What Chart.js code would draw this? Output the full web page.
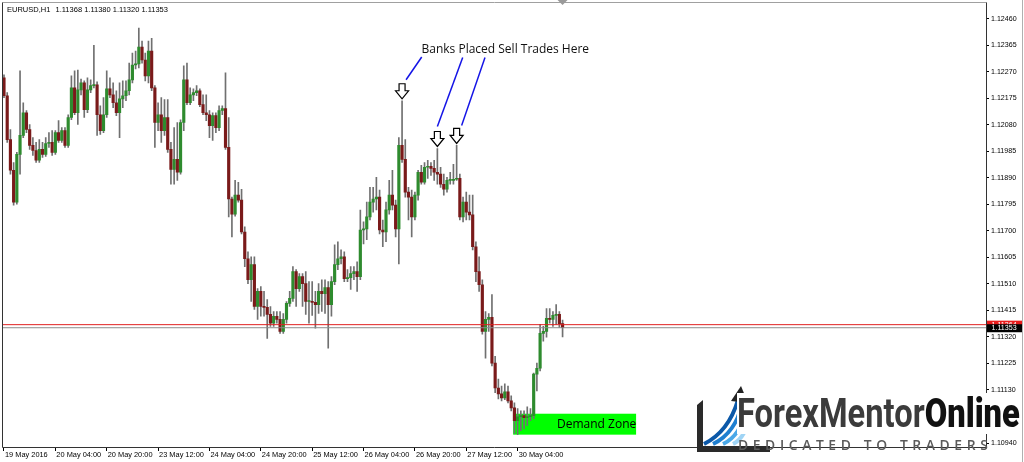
<!DOCTYPE html>
<html><head><meta charset="utf-8">
<script src="https://cdn.jsdelivr.net/npm/chart.js@4.4.0/dist/chart.umd.min.js"></script>
<style>
html,body{margin:0;padding:0;background:#fff;}
#wrap{position:relative;width:1024px;height:462px;overflow:hidden;background:#fff;}
#c{position:absolute;left:0;top:0;}
#brand{position:absolute;left:737px;top:393px;font-family:Roboto;font-size:41px;line-height:41px;font-weight:700;white-space:nowrap;transform-origin:0 0;background:#fff;}
#tag{position:absolute;left:738px;top:437px;font-family:'Open Sans';font-size:15px;line-height:15px;font-weight:600;letter-spacing:5px;color:#5a5a5a;white-space:nowrap;transform-origin:0 0;}
</style></head><body>
<div id="wrap">
<canvas id="c" width="1024" height="462"></canvas>
<svg width="1024" height="462" style="position:absolute;left:0;top:0;pointer-events:none">
 <path d="M697 405 L703 400 L703 446 L770 446 L770 452 L697 452 Z" fill="#2a2a2a"/>
 <path d="M704 444 C 720 436, 732 420, 738 400" stroke="#0b58a8" stroke-width="4" fill="none"/>
 <path d="M713 444 C 728 437, 738 422, 742 404" stroke="#1f7fd0" stroke-width="4" fill="none"/>
 <path d="M723 444 C 736 438, 743 425, 746 408" stroke="#4aa8e8" stroke-width="4" fill="none"/>
 <path d="M733 444 C 743 439, 748 428, 750 412" stroke="#9fd4f5" stroke-width="4" fill="none"/>
 <path d="M731 401 L741 386 L748 403 Z" fill="#222"/>
</svg>
<div id="brand"><span style="color:#3b3b3b">ForexMentor</span><span style="color:#111;font-weight:900">Online</span></div>
<div id="tag">DEDICATED TO TRADERS</div>
</div>
<script>
// ---- data (EURUSD H1) ----
const symbol = "EURUSD,H1";
const open = [1.12248,1.12184,1.12027,1.11917,1.11803,1.11974,1.12042,1.12123,1.12063,1.12006,
1.11988,1.11953,1.11992,1.11974,1.12013,1.12017,1.11981,1.12052,1.12024,1.12059,
1.12006,1.12106,1.12212,1.12123,1.12205,1.12230,1.12134,1.12205,1.12220,1.12223,
1.12116,1.12059,1.12116,1.12209,1.12187,1.12159,1.12123,1.12173,1.12184,1.12202,
1.12241,1.12294,1.12298,1.12358,1.12312,1.12255,1.12344,1.12212,1.12088,1.12116,
1.12059,1.12106,1.11992,1.11920,1.11956,1.11910,1.12088,1.12241,1.12159,1.12187,
1.12195,1.12202,1.12152,1.12123,1.12116,1.12077,1.12113,1.12070,1.12131,1.12138,
1.11999,1.11814,1.11760,1.11828,1.11810,1.11696,1.11600,1.11525,1.11579,1.11429,
1.11483,1.11429,1.11426,1.11401,1.11369,1.11394,1.11383,1.11340,1.11383,1.11440,
1.11458,1.11554,1.11493,1.11536,1.11511,1.11447,1.11447,1.11444,1.11436,1.11483,
1.11475,1.11497,1.11436,1.11518,1.11579,1.11600,1.11607,1.11529,1.11532,1.11547,
1.11554,1.11536,1.11703,1.11707,1.11750,1.11803,1.11814,1.11821,1.11703,1.11696,
1.11775,1.11828,1.11792,1.11707,1.12006,1.11956,1.11839,1.11821,1.11750,1.11828,
1.11910,1.11874,1.11928,1.11931,1.11924,1.11910,1.11903,1.11867,1.11849,1.11881,
1.11881,1.11885,1.11888,1.11750,1.11803,1.11767,1.11757,1.11643,1.11554,1.11507,
1.11340,1.11383,1.11390,1.11226,1.11137,1.11116,1.11102,1.11123,1.11091,1.11066,
1.11020,1.11034,1.11038,1.11031,1.11034,1.11038,1.11187,1.11208,1.11333,1.11340,
1.11387,1.11383,1.11397,1.11401,1.11368];
const high = [1.12259,1.12195,1.12063,1.11945,1.11981,1.12273,1.12159,1.12131,1.12081,1.12034,
1.12017,1.12027,1.12017,1.12034,1.12052,1.12059,1.12059,1.12095,1.12070,1.12070,
1.12116,1.12255,1.12273,1.12276,1.12244,1.12237,1.12248,1.12241,1.12365,1.12234,
1.12148,1.12177,1.12273,1.12248,1.12230,1.12202,1.12230,1.12237,1.12237,1.12301,
1.12337,1.12344,1.12426,1.12380,1.12337,1.12380,1.12390,1.12220,1.12159,1.12177,
1.12170,1.12170,1.12017,1.12070,1.12088,1.12098,1.12291,1.12301,1.12212,1.12209,
1.12220,1.12209,1.12187,1.12187,1.12131,1.12123,1.12123,1.12148,1.12148,1.12266,
1.12106,1.11821,1.11881,1.11874,1.11849,1.11714,1.11625,1.11607,1.11607,1.11493,
1.11500,1.11483,1.11454,1.11429,1.11411,1.11411,1.11411,1.11404,1.11447,1.11483,
1.11572,1.11561,1.11547,1.11547,1.11554,1.11518,1.11518,1.11483,1.11511,1.11525,
1.11525,1.11518,1.11536,1.11650,1.11661,1.11632,1.11625,1.11561,1.11572,1.11572,
1.11589,1.11774,1.11732,1.11803,1.11856,1.11856,1.11892,1.11846,1.11739,1.11803,
1.11881,1.11917,1.11810,1.12034,1.12166,1.12027,1.11856,1.11846,1.11839,1.11917,
1.11935,1.11945,1.11953,1.11945,1.11953,1.11995,1.11928,1.11903,1.11892,1.11910,
1.11938,1.12006,1.11903,1.11821,1.11839,1.11828,1.11828,1.11661,1.11607,1.11525,
1.11411,1.11404,1.11472,1.11251,1.11169,1.11144,1.11152,1.11144,1.11109,1.11084,
1.11063,1.11055,1.11055,1.11070,1.11063,1.11191,1.11226,1.11365,1.11358,1.11422,
1.11422,1.11411,1.11436,1.11411,1.11380];
const low = [1.12177,1.12017,1.11903,1.11792,1.11796,1.11903,1.12034,1.12052,1.11992,1.11970,
1.11945,1.11945,1.11963,1.11967,1.11999,1.11970,1.11974,1.12017,1.12017,1.11999,
1.11999,1.12098,1.12116,1.12081,1.12187,1.12106,1.12123,1.12195,1.12212,1.12042,
1.12045,1.12052,1.12106,1.12177,1.12141,1.12113,1.12034,1.12141,1.12166,1.12187,
1.12230,1.12280,1.12284,1.12301,1.12237,1.12230,1.12202,1.11999,1.12059,1.12017,
1.12042,1.11981,1.11867,1.11867,1.11881,1.11903,1.12059,1.12152,1.12152,1.12166,
1.12184,1.12145,1.12116,1.12095,1.12034,1.12024,1.12052,1.12059,1.12116,1.11992,
1.11750,1.11678,1.11753,1.11803,1.11689,1.11572,1.11511,1.11447,1.11419,1.11383,
1.11394,1.11394,1.11315,1.11358,1.11358,1.11369,1.11333,1.11333,1.11369,1.11429,
1.11447,1.11429,1.11483,1.11429,1.11401,1.11369,1.11397,1.11351,1.11404,1.11411,
1.11404,1.11280,1.11394,1.11507,1.11561,1.11582,1.11518,1.11518,1.11490,1.11525,
1.11483,1.11525,1.11653,1.11668,1.11739,1.11767,1.11775,1.11689,1.11643,1.11661,
1.11760,1.11775,1.11678,1.11582,1.11945,1.11821,1.11739,1.11678,1.11739,1.11810,
1.11867,1.11867,1.11888,1.11899,1.11881,1.11867,1.11856,1.11828,1.11839,1.11867,
1.11867,1.11881,1.11739,1.11732,1.11739,1.11739,1.11632,1.11518,1.11483,1.11330,
1.11244,1.11340,1.11216,1.11120,1.11098,1.11091,1.11095,1.11084,1.11055,1.10974,
1.10970,1.10984,1.10991,1.11002,1.11020,1.11027,1.11127,1.11198,1.11305,1.11319,
1.11369,1.11358,1.11365,1.11354,1.11320];
const close = [1.12184,1.12027,1.11917,1.11803,1.11974,1.12042,1.12123,1.12063,1.12006,1.11988,
1.11953,1.11992,1.11974,1.12013,1.12017,1.11981,1.12052,1.12024,1.12059,1.12006,
1.12106,1.12212,1.12123,1.12205,1.12230,1.12134,1.12205,1.12220,1.12223,1.12116,
1.12059,1.12116,1.12209,1.12187,1.12159,1.12123,1.12173,1.12184,1.12202,1.12241,
1.12294,1.12298,1.12358,1.12312,1.12255,1.12344,1.12212,1.12088,1.12116,1.12059,
1.12106,1.11992,1.11920,1.11956,1.11910,1.12088,1.12241,1.12159,1.12187,1.12195,
1.12202,1.12152,1.12123,1.12116,1.12077,1.12113,1.12070,1.12131,1.12138,1.11999,
1.11814,1.11760,1.11828,1.11810,1.11696,1.11600,1.11525,1.11579,1.11429,1.11483,
1.11429,1.11426,1.11401,1.11369,1.11394,1.11383,1.11340,1.11383,1.11440,1.11458,
1.11554,1.11493,1.11536,1.11511,1.11447,1.11447,1.11444,1.11436,1.11483,1.11475,
1.11497,1.11436,1.11518,1.11579,1.11600,1.11607,1.11529,1.11532,1.11547,1.11554,
1.11536,1.11703,1.11707,1.11750,1.11803,1.11814,1.11821,1.11703,1.11696,1.11775,
1.11828,1.11792,1.11707,1.12006,1.11956,1.11839,1.11821,1.11750,1.11828,1.11910,
1.11874,1.11928,1.11931,1.11924,1.11910,1.11903,1.11867,1.11849,1.11881,1.11881,
1.11885,1.11888,1.11750,1.11803,1.11767,1.11757,1.11643,1.11554,1.11507,1.11340,
1.11383,1.11390,1.11226,1.11137,1.11116,1.11102,1.11123,1.11091,1.11066,1.11020,
1.11034,1.11038,1.11031,1.11034,1.11038,1.11187,1.11208,1.11333,1.11340,1.11387,
1.11383,1.11397,1.11401,1.11368,1.11353];

const xTickIdx = [0,16,32,48,64,80,96,112,128,144,160];
const xTickLabels = ["19 May 2016","20 May 04:00","20 May 20:00","23 May 12:00","24 May 04:00","24 May 20:00","25 May 12:00","26 May 04:00","26 May 20:00","27 May 12:00","30 May 04:00"];
const yTicks = [1.10940,1.11035,1.11130,1.11225,1.11320,1.11415,1.11510,1.11605,1.11700,1.11795,1.11890,1.11985,1.12080,1.12175,1.12270,1.12365,1.12460];
const askPrice = 1.11364;
const bidPrice = 1.11353;
const demandZone = {fromIdx:158.6, toIdx:196.9, top:1.11045, bottom:1.10970, label:"Demand Zone"};
const sellArrowIdx = [124,135,141];
const annotationText = "Banks Placed Sell Trades Here";

// ---- view range ----
const xMin = -0.31, xMax = 305.9;
const yMin = 1.109258, yMax = 1.125045;

const idx = open.map((_, i) => i);
const upColor = '#2e8b2e', downColor = '#7a1a1a', wickColor = '#707070';
const FONT = "'Liberation Sans', Arial, sans-serif";
Chart.defaults.font.family = FONT;

function drawArrow(ctx, cx, tip) {
  ctx.beginPath();
  ctx.moveTo(cx - 3, tip - 15);
  ctx.lineTo(cx + 3, tip - 15);
  ctx.lineTo(cx + 3, tip - 8);
  ctx.lineTo(cx + 6.5, tip - 8);
  ctx.lineTo(cx, tip);
  ctx.lineTo(cx - 6.5, tip - 8);
  ctx.lineTo(cx - 3, tip - 8);
  ctx.closePath();
  ctx.fillStyle = '#fff'; ctx.fill();
  ctx.strokeStyle = '#000'; ctx.lineWidth = 1.2; ctx.stroke();
}

const overlay = {
  id: 'overlay',
  beforeDatasetsDraw(chart) {
    const {ctx, scales: {x, y}} = chart;
    const x0 = x.getPixelForValue(demandZone.fromIdx), x1 = x.getPixelForValue(demandZone.toIdx);
    const y0 = y.getPixelForValue(demandZone.top), y1 = y.getPixelForValue(demandZone.bottom);
    ctx.save();
    ctx.fillStyle = '#00ff00';
    ctx.fillRect(x0, y0, x1 - x0, y1 - y0);
    ctx.restore();
  },
  afterDatasetsDraw(chart) {
    const {ctx, chartArea: ca, scales: {x, y}} = chart;
    ctx.save();
    const zy = (y.getPixelForValue(demandZone.top) + y.getPixelForValue(demandZone.bottom)) / 2;
    ctx.fillStyle = '#000';
    ctx.font = "12px 'Open Sans'";
    ctx.textBaseline = 'middle';
    ctx.textAlign = 'left';
    ctx.fillText(demandZone.label, 557, zy + 0.5);

    const arrows = sellArrowIdx.map(i => ({x: x.getPixelForValue(i), tip: y.getPixelForValue(high[i]) - 2}));
    const starts = [[421.7, 57], [462.7, 57.5], [485, 57.5]];
    const offs = [[4, -4], [0, -5], [5, -3]];
    ctx.strokeStyle = '#1414e6';
    ctx.lineWidth = 1.5;
    arrows.forEach((a, k) => {
      ctx.beginPath();
      ctx.moveTo(starts[k][0], starts[k][1]);
      ctx.lineTo(a.x + offs[k][0], a.tip - 15 + offs[k][1]);
      ctx.stroke();
    });
    arrows.forEach(a => drawArrow(ctx, a.x, a.tip));

    ctx.fillStyle = '#111';
    ctx.font = "12px 'Open Sans'";
    ctx.textBaseline = 'middle';
    ctx.fillText(annotationText, 421.5, 50);

    const n = open.length - 1;
    ctx.font = "7.5px " + FONT;
    ctx.fillStyle = '#000';
    ctx.fillText(symbol, 7, 9.5);
    ctx.fillText([open[n], high[n], low[n], close[n]].map(v => v.toFixed(5)).join(' '), 55.5, 9.5);

    ctx.lineWidth = 1;
    ctx.strokeStyle = '#a0a0a0';
    ctx.beginPath(); ctx.moveTo(2.5, 2.5); ctx.lineTo(ca.right + 0.5, 2.5); ctx.stroke();
    ctx.strokeStyle = '#333';
    ctx.beginPath();
    ctx.moveTo(2.5, 2.5); ctx.lineTo(2.5, ca.bottom + 0.5);
    ctx.lineTo(ca.right + 0.5, ca.bottom + 0.5);
    ctx.lineTo(ca.right + 0.5, 2.5);
    ctx.stroke();
    ctx.strokeStyle = '#b0b0b0';
    ctx.beginPath(); ctx.moveTo(1022.5, 0); ctx.lineTo(1022.5, 462); ctx.stroke();

    const sx = x.getPixelForValue(n);
    ctx.fillStyle = '#9a9a9a';
    ctx.beginPath(); ctx.moveTo(sx - 5, 0); ctx.lineTo(sx + 5, 0); ctx.lineTo(sx, 5); ctx.closePath(); ctx.fill();

    const ya = y.getPixelForValue(askPrice), yb = y.getPixelForValue(bidPrice);
    ctx.font = "7.1px " + FONT;
    ctx.textBaseline = 'middle';
    ctx.fillStyle = '#e81c1c'; ctx.fillRect(987, ya - 4, 35, 8);
    ctx.fillStyle = '#fff'; ctx.fillText(askPrice.toFixed(5), 991.5, ya + 0.5);
    ctx.fillStyle = '#000'; ctx.fillRect(987, yb - 3.5, 35, 8);
    ctx.fillStyle = '#fff'; ctx.fillText(bidPrice.toFixed(5), 991.5, yb + 0.5);
    ctx.restore();
  }
};

new Chart(document.getElementById('c'), {
  type: 'bar',
  data: {
    datasets: [
      {type: 'line', data: [{x: xMin, y: askPrice}, {x: xMax, y: askPrice}], borderColor: '#e02020', borderWidth: 1, pointRadius: 0, order: 0},
      {type: 'line', data: [{x: xMin, y: bidPrice}, {x: xMax, y: bidPrice}], borderColor: '#8c8c8c', borderWidth: 1, pointRadius: 0, order: 0},
      {label: 'body', data: idx.map(i => ({x: i, y: [open[i], close[i]]})),
       backgroundColor: idx.map(i => close[i] >= open[i] ? upColor : downColor),
       barThickness: 2.5, minBarLength: 1, grouped: false, order: 1},
      {label: 'wick', data: idx.map(i => ({x: i, y: [low[i], high[i]]})),
       backgroundColor: wickColor, barThickness: 1, grouped: false, order: 2}
    ]
  },
  options: {
    responsive: false,
    animation: false,
    events: [],
    layout: {padding: {left: 3, top: 3, right: 0, bottom: 0}},
    plugins: {legend: {display: false}, tooltip: {enabled: false}, title: {display: false}},
    scales: {
      x: {
        type: 'linear', min: xMin, max: xMax, offset: false,
        afterBuildTicks: s => { s.ticks = xTickIdx.map(v => ({value: v})); },
        afterFit: s => { s.height = 15; },
        grid: {display: true, drawOnChartArea: false, drawTicks: true, tickLength: 4, color: '#000', offset: false},
        border: {display: false},
        ticks: {autoSkip: false, maxRotation: 0, minRotation: 0, align: 'start', padding: 0, labelOffset: 1,
          color: '#000', font: {size: 7.4},
          callback: v => { const k = xTickIdx.indexOf(v); return k >= 0 ? xTickLabels[k] : ''; }}
      },
      y: {
        type: 'linear', position: 'right', min: yMin, max: yMax, beginAtZero: false,
        afterBuildTicks: s => { s.ticks = yTicks.map(v => ({value: v})); },
        afterFit: s => { s.width = 38; },
        grid: {display: true, drawOnChartArea: false, tickLength: 3, color: '#000'},
        border: {display: false},
        ticks: {padding: 2, color: '#000', font: {size: 7.1}, callback: v => v.toFixed(5)}
      }
    }
  },
  plugins: [overlay]
});

(function () {
  const b = document.getElementById('brand');
  b.style.transform = 'scaleX(' + (283 / b.offsetWidth) + ')';
  const t = document.getElementById('tag');
  t.style.transform = 'scaleX(' + (254 / t.offsetWidth) + ')';
})();
</script>
</body></html>
